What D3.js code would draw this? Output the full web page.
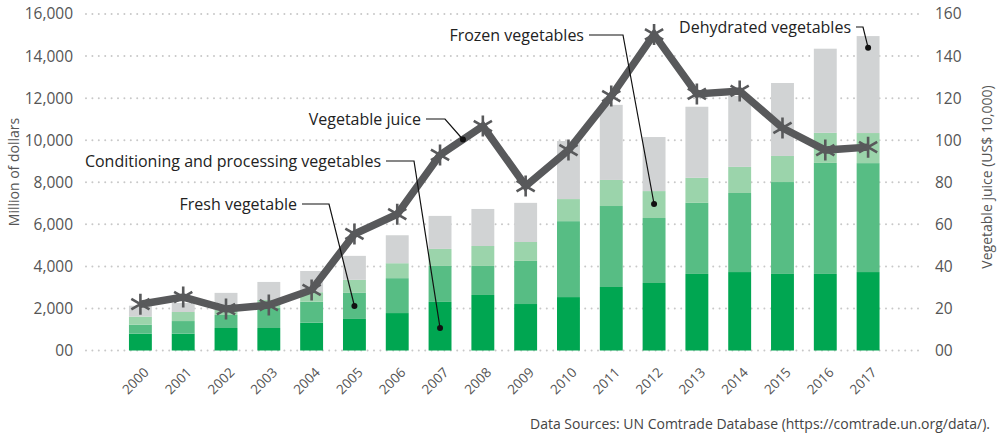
<!DOCTYPE html>
<html><head><meta charset="utf-8">
<script src="https://cdn.jsdelivr.net/npm/d3@7"></script>
<style>
html,body{margin:0;padding:0;background:#fff;}
svg{display:block;font-family:"Open Sans",sans-serif;}
</style></head>
<body><svg id="c" width="1000" height="435"></svg>
<script>
const years = ["2000","2001","2002","2003","2004","2005","2006","2007","2008","2009","2010","2011","2012","2013","2014","2015","2016","2017"];
const conditioning = [800,800,1070,1070,1320,1500,1780,2310,2640,2210,2540,3020,3210,3640,3730,3640,3640,3730];
const fresh = [430,600,620,950,1000,1240,1660,1710,1380,2050,3610,3850,3090,3380,3760,4370,5280,5180];
const frozen = [380,430,240,380,450,620,710,810,950,900,1050,1240,1280,1190,1240,1240,1430,1430];
const dehydrated = [520,430,810,860,1010,1140,1330,1570,1760,1860,2760,3570,2570,3380,3370,3470,4000,4610];
const juice = [22.0,25.4,19.7,21.6,28.8,55.4,64.8,93.0,106.7,78.2,95.3,121.0,150.3,122.0,123.4,105.8,95.3,96.7];
const leftTicks = [0,2000,4000,6000,8000,10000,12000,14000,16000];
const rightTicks = [0,20,40,60,80,100,120,140,160];
const seriesNames = ["Conditioning and processing vegetables","Fresh vegetable","Frozen vegetables","Dehydrated vegetables"];

const colors = ["#00a651","#57bd84","#9bd4ab","#d1d3d4"];
const svg = d3.select("#c");

const x = d3.scaleBand().domain(years).range([119, 889.5]).paddingInner(0.465).paddingOuter(0.2325);
const yL = d3.scaleLinear().domain([0,16000]).range([350.5,14]);
const yR = d3.scaleLinear().domain([0,160]).range([350.5,14]);

// gridlines
const grid = svg.append("g");
grid.selectAll("line").data(leftTicks).join("line")
  .attr("x1",86).attr("x2",922)
  .attr("y1",d=>yL(d)).attr("y2",d=>yL(d))
  .attr("stroke","#c8c8c8").attr("stroke-width",2)
  .attr("stroke-linecap","round").attr("stroke-dasharray","0,6.4");

// left axis
const fmtL = d=> d===0 ? "00" : d3.format(",")(d);
const axL = svg.append("g").attr("transform","translate(73,0)")
  .call(d3.axisLeft(yL).tickValues(leftTicks).tickFormat(fmtL).tickSize(0).tickPadding(0));
axL.select(".domain").remove();
axL.selectAll("text").attr("font-size",15.5).attr("fill","#555").attr("font-family","Open Sans");

const axR = svg.append("g").attr("transform","translate(935,0)")
  .call(d3.axisRight(yR).tickValues(rightTicks).tickFormat(d=>d===0?"00":d).tickSize(0).tickPadding(0));
axR.select(".domain").remove();
axR.selectAll("text").attr("font-size",15.5).attr("fill","#555").attr("font-family","Open Sans");

// x axis
const axX = svg.append("g").attr("transform","translate(0,362)")
  .call(d3.axisBottom(x).tickSize(0).tickPadding(0));
axX.select(".domain").remove();
axX.selectAll("text").attr("font-size",13.5).attr("fill","#555").attr("font-family","Open Sans")
  .attr("text-anchor","end").attr("dy","0.35em")
  .attr("transform","translate(6,8) rotate(-45)");

// stacked bars
const table = years.map((y,i)=>({year:y, s0:conditioning[i], s1:fresh[i], s2:frozen[i], s3:dehydrated[i]}));
const stack = d3.stack().keys(["s0","s1","s2","s3"])(table);
svg.append("g").selectAll("g").data(stack).join("g")
  .attr("fill",(d,i)=>colors[i])
  .selectAll("rect").data(d=>d).join("rect")
  .attr("x",d=>x(d.data.year)).attr("width",x.bandwidth())
  .attr("y",d=>yL(d[1])).attr("height",d=>yL(d[0])-yL(d[1]));

// juice line
const cx = i => x(years[i]) + x.bandwidth()/2;
const line = d3.line().x((d,i)=>cx(i)).y(d=>yR(d));
svg.append("path").datum(juice).attr("d",line)
  .attr("fill","none").attr("stroke","#58595b").attr("stroke-width",7.5).attr("stroke-linejoin","miter");
const R = 10.5;
const star = `M0,${-R}L0,${R}M${-R*0.866},${-R*0.5}L${R*0.866},${R*0.5}M${-R*0.866},${R*0.5}L${R*0.866},${-R*0.5}`;
svg.append("g").selectAll("path").data(juice).join("path")
  .attr("transform",(d,i)=>`translate(${cx(i)},${yR(d)})`)
  .attr("d",star).attr("stroke","#58595b").attr("stroke-width",2.6).attr("fill","none");

// title / axis labels
svg.append("text").attr("transform","translate(19,172) rotate(-90)")
  .attr("text-anchor","middle").attr("font-size",14).attr("fill","#555").text("Million of dollars");
svg.append("text").attr("transform","translate(992,177) rotate(-90)")
  .attr("text-anchor","middle").attr("font-size",14).attr("fill","#555").text("Vegetable juice (US$ 10,000)");
svg.append("text").attr("x",990).attr("y",429).attr("text-anchor","end")
  .attr("font-size",14).attr("fill","#444")
  .text("Data Sources: UN Comtrade Database (https://comtrade.un.org/data/).");

// annotations
const jIdx = 7, jt = 0.535;
const ann = [
  {text:seriesNames[1], tx:297, ty:204, bx:329, px:cx(5), py:yL(2116)},
  {text:seriesNames[0], tx:381, ty:161, bx:414, px:cx(7), py:yL(1070)},
  {text:"Vegetable juice", tx:421, ty:119, bx:445, px:cx(jIdx)+(cx(jIdx+1)-cx(jIdx))*jt, py:yR(juice[jIdx]+(juice[jIdx+1]-juice[jIdx])*jt)},
  {text:seriesNames[2], tx:584, ty:35, bx:623, px:cx(12), py:yL(6966)},
  {text:seriesNames[3], tx:851, ty:27, bx:863, px:cx(17), py:yL(14400)}
];
const ag = svg.append("g");
ann.forEach(a=>{
  ag.append("text").attr("x",a.tx).attr("y",a.ty).attr("dy","0.35em")
    .attr("text-anchor","end").attr("font-size",16).attr("fill","#222").text(a.text);
  ag.append("path").attr("d",`M${a.tx+5},${a.ty}L${a.bx},${a.ty}L${a.px},${a.py}`)
    .attr("fill","none").attr("stroke","#111").attr("stroke-width",1.2);
  ag.append("circle").attr("cx",a.px).attr("cy",a.py).attr("r",3).attr("fill","#111");
});
</script></body></html>
